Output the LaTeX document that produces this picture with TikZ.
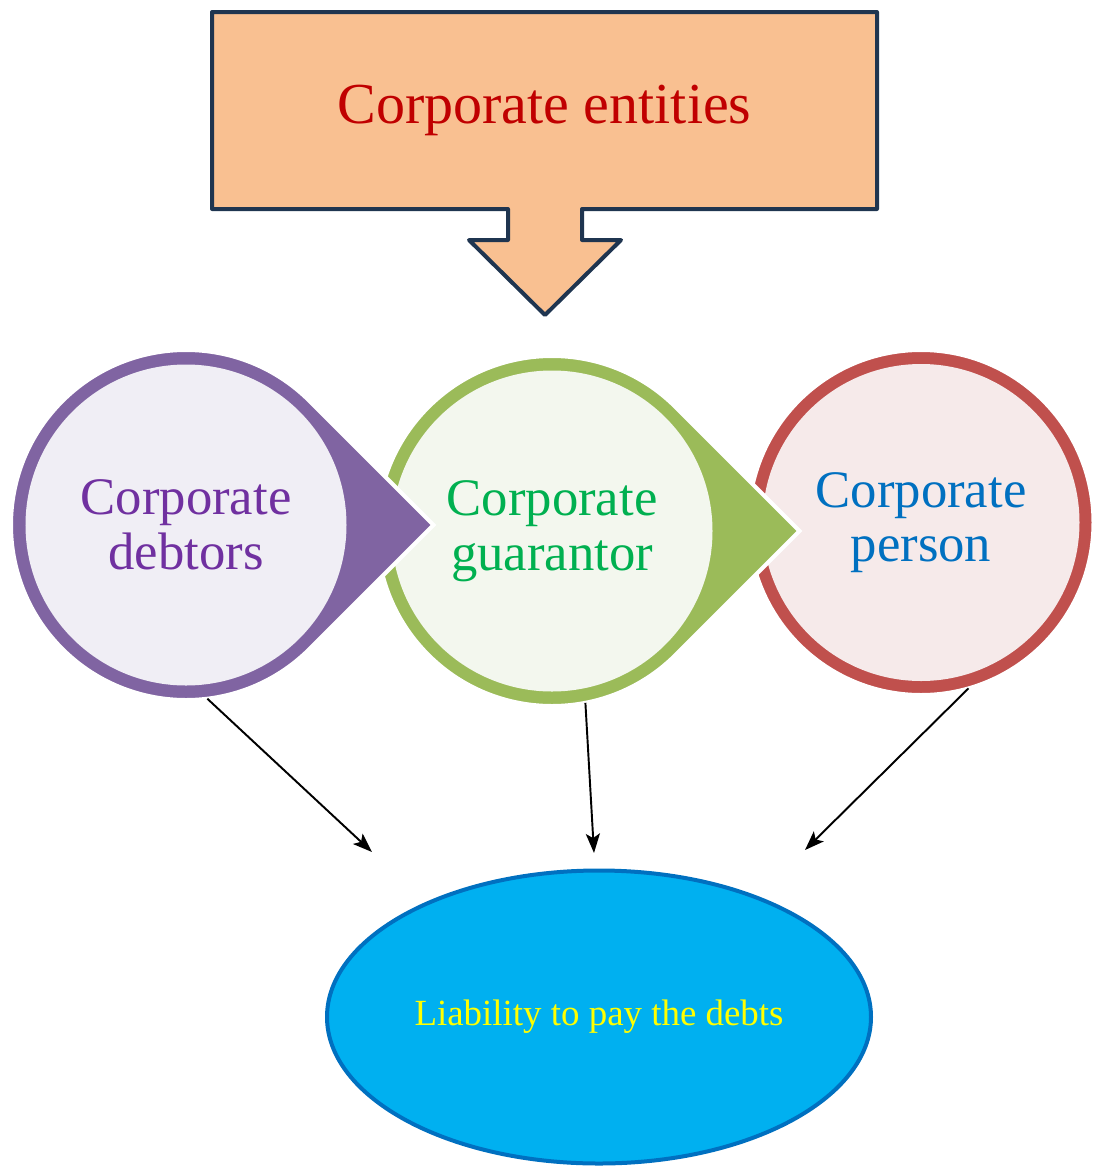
\documentclass[tikz,border=0pt]{standalone}
\usepackage{fontspec}
\setmainfont{Liberation Serif}
\usetikzlibrary{shapes.geometric, arrows.meta, positioning, backgrounds, calc}
\definecolor{calloutfill}{HTML}{F9C091}
\definecolor{calloutline}{HTML}{1F3550}
\definecolor{entitiestext}{HTML}{C00000}
\definecolor{debtorring}{HTML}{8064A2}
\definecolor{debtorfill}{HTML}{F0EEF5}
\definecolor{debtortext}{HTML}{7030A0}
\definecolor{guarring}{HTML}{9BBB59}
\definecolor{guarfill}{HTML}{F3F7EE}
\definecolor{guartext}{HTML}{00B050}
\definecolor{personring}{HTML}{C0504D}
\definecolor{personfill}{HTML}{F6EAEA}
\definecolor{persontext}{HTML}{0070C0}
\definecolor{outcomefill}{HTML}{00B0F0}
\definecolor{outcomeline}{HTML}{0070C0}
\definecolor{outcometext}{HTML}{FFFF00}
\tikzstyle{bubble} = [circle, minimum size=7cm, inner sep=0pt, outer sep=0pt, align=center, font=\fontsize{30}{31}\selectfont]
\tikzstyle{outcome} = [ellipse, minimum width=10.88cm, minimum height=5.86cm, draw=outcomeline, line width=0.08cm, fill=outcomefill, text=outcometext, font=\fontsize{21}{25}\selectfont]
\tikzstyle{link} = [-{Stealth[length=11pt, width=8pt, inset=2.5pt]}, line width=1.1pt]

\begin{document}
\begin{tikzpicture}
    \useasboundingbox (0,0) rectangle (21.88,-23.32);

    % top callout
    \draw[line width=0.08cm, draw=calloutline, fill=calloutfill, line join=round]
        (4.24,-0.24) -- (17.54,-0.24) -- (17.54,-4.18) -- (11.64,-4.18) -- (11.64,-4.8)
        -- (12.42,-4.8) -- (10.9,-6.3) -- (9.38,-4.8) -- (10.16,-4.8) -- (10.16,-4.18)
        -- (4.24,-4.18) -- cycle;
    \node[font=\fontsize{33}{36}\selectfont, text=entitiestext] (entities) at (10.89,-2.21) {Corporate entities};

    % circles
    \node[bubble, text=debtortext] (debtors) at (3.72,-10.5) {Corporate\\debtors};
    \node[bubble, text=guartext] (guarantor) at (11.04,-10.62) {Corporate\\guarantor};
    \node[bubble, minimum size=6.9cm, text=persontext] (person) at (18.42,-10.45) {Corporate\\person};

    \begin{pgfonlayer}{background}
        \filldraw[draw=white, line width=0.08cm, fill=personring] (person.center) circle (3.45cm);
        \fill[personfill] (person.center) circle (3.17cm);
        \filldraw[draw=white, line width=0.08cm, fill=guarring] (guarantor.45) -- ($(guarantor.center)+(4.95,0)$) -- (guarantor.-45) arc[start angle=-45, end angle=-315, radius=3.5cm] -- cycle;
        \fill[guarfill] (guarantor.center) circle (3.21cm);
        \filldraw[draw=white, line width=0.08cm, fill=debtorring] (debtors.45) -- ($(debtors.center)+(4.95,0)$) -- (debtors.-45) arc[start angle=-45, end angle=-315, radius=3.5cm] -- cycle;
        \fill[debtorfill] (debtors.center) circle (3.21cm);
    \end{pgfonlayer}

    % outcome
    \node[outcome] (liability) at (11.98,-20.34) {Liability to pay the debts};

    \coordinate (debtorsEnd) at (7.44,-17.04);
    \coordinate (guarantorEnd) at (11.88,-17.06);
    \coordinate (personEnd) at (16.1,-17.0);
    \draw[link] (debtors.-83) -- (debtorsEnd);
    \draw[link] (guarantor.-79) -- (guarantorEnd);
    \draw[link] (person.-74) -- (personEnd);
\end{tikzpicture}
\end{document}
